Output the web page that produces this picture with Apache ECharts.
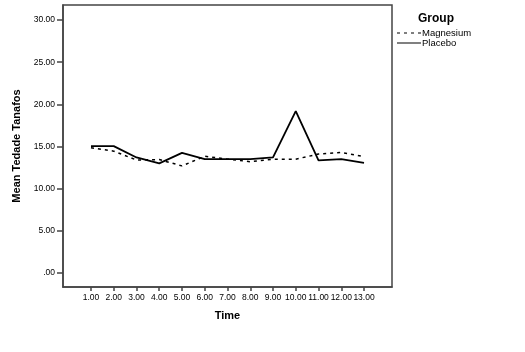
<!DOCTYPE html>
<html>
<head>
<meta charset="utf-8">
<script src="https://cdn.jsdelivr.net/npm/echarts@6/dist/echarts.min.js"></script>
<style>
  html, body { margin: 0; padding: 0; background: #fff; }
  #chart { width: 525px; height: 352px; }
</style>
</head>
<body>
<div id="chart"></div>
<script>
// time points 1..13
const times = [1, 2, 3, 4, 5, 6, 7, 8, 9, 10, 11, 12, 13];
const magnesium = [14.85, 14.45, 13.4, 13.45, 12.7, 13.85, 13.5, 13.2, 13.5, 13.5, 14.1, 14.3, 13.8];
const placebo = [15.05, 15.05, 13.7, 13.0, 14.25, 13.5, 13.5, 13.5, 13.7, 19.2, 13.35, 13.5, 13.05];
const yTicks = [0, 5, 10, 15, 20, 25, 30];

const font = "Liberation Sans, Arial, sans-serif";
const axisCol = "#444";

const chart = echarts.init(document.getElementById("chart"));

const pairs = (vals) => times.map((t, i) => [t, vals[i]]);

chart.setOption({
  animation: false,
  grid: {
    left: 63, top: 5, right: 133, bottom: 65,
    show: true, borderColor: axisCol, borderWidth: 1.5, backgroundColor: "#fff"
  },
  title: {
    text: "Group", left: 413, top: 8,
    textStyle: { fontFamily: font, fontSize: 12, fontWeight: "bold", color: "#000" }
  },
  legend: {
    orient: "vertical", left: 392, top: 23, itemGap: 0,
    itemWidth: 24, itemHeight: 1.6,
    textStyle: { fontFamily: font, fontSize: 9.5, color: "#000", padding: [0, 0, 0, -4] },
    itemStyle: { color: "#000", borderWidth: 0 },
    data: [
      { name: "Magnesium", icon: "path://M0,0h3v1h-3z M7,0h3v1h-3z M14,0h3v1h-3z M21,0h3v1h-3z" },
      { name: "Placebo", icon: "path://M0,0h24v1h-24z" }
    ]
  },
  xAxis: {
    type: "value", min: -0.23, max: 14.23,
    name: "Time", nameLocation: "middle", nameGap: 23,
    nameTextStyle: { fontFamily: font, fontSize: 11, fontWeight: "bold", color: "#000" },
    axisLine: { show: true, onZero: false, lineStyle: { color: axisCol, width: 1.5 } },
    axisTick: { show: true, length: 4, customValues: times, lineStyle: { color: axisCol, width: 1.5 } },
    axisLabel: {
      customValues: times, margin: 6,
      fontFamily: font, fontSize: 8.5, color: "#000",
      formatter: (v) => v.toFixed(2)
    },
    splitLine: { show: false }
  },
  yAxis: {
    type: "value", min: -1.66, max: 31.78,
    name: "Mean Tedade Tanafos", nameLocation: "middle", nameGap: 35,
    nameTextStyle: { fontFamily: font, fontSize: 11, fontWeight: "bold", color: "#000" },
    axisLine: { show: true, onZero: false, lineStyle: { color: axisCol, width: 1.5 } },
    axisTick: { show: true, length: 6, customValues: yTicks, lineStyle: { color: axisCol, width: 1.5 } },
    axisLabel: {
      customValues: yTicks, margin: 8,
      fontFamily: font, fontSize: 8.5, color: "#000",
      formatter: (v) => v === 0 ? ".00" : v.toFixed(2)
    },
    splitLine: { show: false }
  },
  series: [
    {
      name: "Magnesium", type: "line", data: pairs(magnesium),
      symbol: "none", silent: true,
      lineStyle: { color: "#000", width: 1.5, type: [3, 4] },
      itemStyle: { color: "#000" }
    },
    {
      name: "Placebo", type: "line", data: pairs(placebo),
      symbol: "none", silent: true,
      lineStyle: { color: "#000", width: 1.8, type: "solid" },
      itemStyle: { color: "#000" }
    }
  ]
});
</script>
</body>
</html>
